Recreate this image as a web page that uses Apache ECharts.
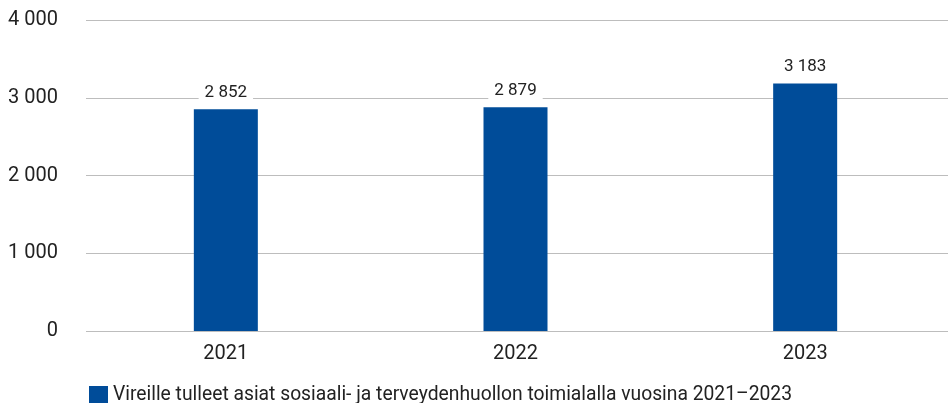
<!DOCTYPE html>
<html>
<head>
<meta charset="utf-8">
<script src="https://cdn.jsdelivr.net/npm/echarts@6/dist/echarts.min.js"></script>
<style>
html, body { margin: 0; padding: 0; background: #fff; }
#container { width: 950px; height: 403px; }
</style>
</head>
<body>
<div id="container"></div>
<script>
var years = ['2021', '2022', '2023'];
var cases = [2852, 2879, 3183];
var seriesName = 'Vireille tulleet asiat sosiaali- ja terveydenhuollon toimialalla vuosina 2021–2023';

// numerot välilyönnillä tuhansittain
function fmt(v) {
    return String(v).replace(/\B(?=(\d{3})+(?!\d))/g, ' ');
}

var myChart = echarts.init(document.getElementById('container'));
var option = {
    backgroundColor: '#fff',
    textStyle: { fontFamily: 'Roboto' },
    grid: [
        { left: 86, right: 2, top: 20, height: 311 },
        { left: 81, right: -3, top: 20, height: 311 }
    ],
    legend: {
        left: 84,
        top: 381,
        itemWidth: 19,
        itemHeight: 19,
        itemGap: 10,
        textStyle: { fontSize: 19.3, color: '#222', fontFamily: 'Roboto' },
        data: [{ name: seriesName, icon: 'rect' }]
    },
    xAxis: [
        { gridIndex: 0, type: 'category', data: years, show: false },
        {
            gridIndex: 1,
            type: 'category',
            data: years,
            axisLine: { show: false },
            axisTick: { show: false },
            axisLabel: { fontSize: 20, color: '#222', margin: 13 }
        }
    ],
    yAxis: [
        {
            gridIndex: 0,
            type: 'value',
            min: 0,
            max: 4000,
            interval: 1000,
            axisLine: { show: false },
            axisTick: { show: false },
            axisLabel: {
                fontSize: 20,
                color: '#222',
                margin: 28,
                formatter: fmt
            },
            splitLine: { lineStyle: { color: '#bdbdbd', width: 1 } }
        },
        {
            gridIndex: 1,
            type: 'value',
            min: 0,
            max: 4000,
            interval: 1000,
            show: false
        }
    ],
    series: [
        {
            name: seriesName,
            type: 'bar',
            xAxisIndex: 1,
            yAxisIndex: 1,
            barWidth: 64,
            data: cases,
            itemStyle: { color: '#004c99' },
            label: {
                show: true,
                position: 'top',
                distance: 6,
                fontSize: 17,
                color: '#222',
                backgroundColor: '#fff',
                padding: [2, 6],
                formatter: function (p) { return fmt(p.value); }
            }
        }
    ]
};
myChart.setOption(option);
</script>
</body>
</html>
